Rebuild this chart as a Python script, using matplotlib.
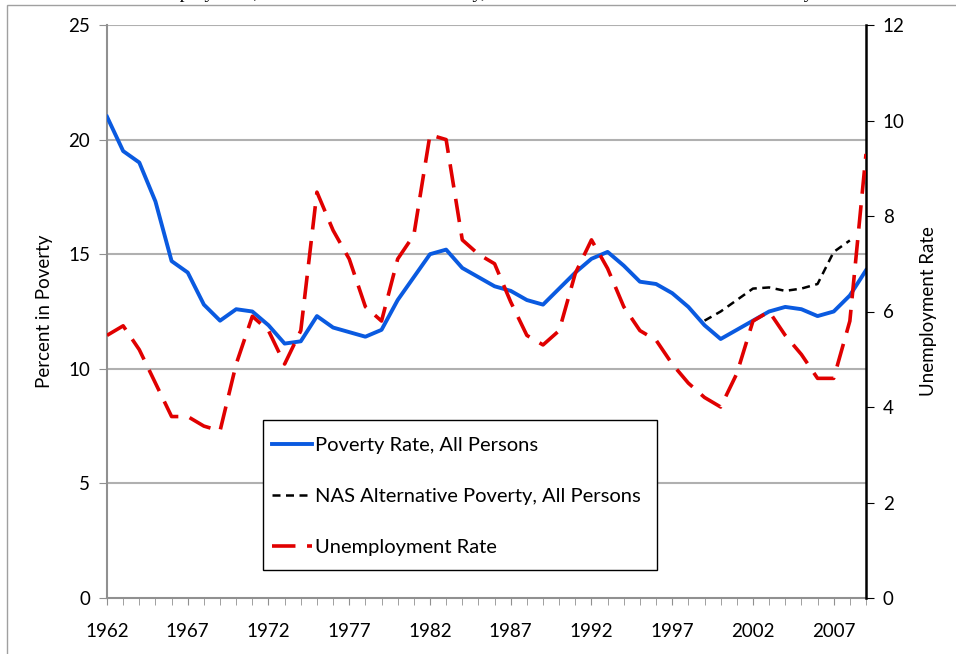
import matplotlib
matplotlib.use("Agg")
import numpy as np
from matplotlib import pyplot as plt
from matplotlib.patches import Rectangle

plt.rcParams["font.family"] = ["Lato", "DejaVu Sans"]

years = list(range(1962, 2010))
poverty = [21.0, 19.5, 19.0, 17.3, 14.7, 14.2, 12.8, 12.1, 12.6, 12.5,
           11.9, 11.1, 11.2, 12.3, 11.8, 11.6, 11.4, 11.7, 13.0, 14.0,
           15.0, 15.2, 14.4, 14.0, 13.6, 13.4, 13.0, 12.8, 13.5, 14.2,
           14.8, 15.1, 14.5, 13.8, 13.7, 13.3, 12.7, 11.9, 11.3, 11.7,
           12.1, 12.5, 12.7, 12.6, 12.3, 12.5, 13.2, 14.3]
unemployment = [5.5, 5.7, 5.2, 4.5, 3.8, 3.8, 3.6, 3.5, 4.9, 5.9,
                5.6, 4.9, 5.6, 8.5, 7.7, 7.1, 6.1, 5.8, 7.1, 7.6,
                9.7, 9.6, 7.5, 7.2, 7.0, 6.2, 5.5, 5.3, 5.6, 6.8,
                7.5, 6.9, 6.1, 5.6, 5.4, 4.9, 4.5, 4.2, 4.0, 4.7,
                5.8, 6.0, 5.5, 5.1, 4.6, 4.6, 5.8, 9.3]
nas_years = list(range(1999, 2009))
nas_poverty = [12.1, 12.5, 13.0, 13.5, 13.55, 13.4, 13.5, 13.7, 15.1, 15.6]

label_years = list(range(1962, 2010, 5))

W, H = 956, 654
L, R, T, B = 107, 866, 25, 598
fig = plt.figure(figsize=(W / 100, H / 100), dpi=100)
ax = fig.add_axes([L / W, 1 - B / H, (R - L) / W, (B - T) / H])
ax2 = ax.twinx()


def to_ax(px, py):
    return (px - L) / (R - L), (B - py) / (B - T)


# chart border and the title, which the reference shows cut off at the top
fig.add_artist(Rectangle((7 / W, -0.1), 1.2, 1.1 - 5 / H, transform=fig.transFigure,
                         fill=False, edgecolor="#a0a0a0", linewidth=1.0))
fig.text(132 / W, 1 + 1.5 / H,
         "Unemployment, Official Measure of Poverty, and NAS Alternative Measure of Poverty",
         family="Liberation Serif", fontsize=14, ha="left", va="baseline")

grid_c = "#b0b0b0"
ax.set_xlim(1962, 2009)
ax.set_ylim(0, 25)
ax.set_yticks([0, 5, 10, 15, 20, 25])
for v in [5, 10, 15, 20, 25]:
    ax.axhline(v, color=grid_c, linewidth=1.5, zorder=0)
ax.set_xticks(label_years)
ax.set_xticks(years, minor=True)
ax.tick_params(axis="x", which="both", direction="out", length=5, color="#909090",
               labelsize=13.5, pad=13)
ax.tick_params(axis="y", direction="out", length=6, color="#909090", labelsize=13.5, pad=6)
for s in ["top", "right"]:
    ax.spines[s].set_visible(False)
ax.spines["left"].set_color("#909090")
ax.spines["bottom"].set_color("#909090")
ax.spines["left"].set_linewidth(1.5)
ax.spines["bottom"].set_linewidth(1.5)
ax.set_ylabel("Percent in Poverty", fontsize=13.5, labelpad=11)

l1, = ax.plot(years, poverty, color="#0a5ae0", linewidth=2.8,
              label="Poverty Rate, All Persons", zorder=3)
l2, = ax.plot(nas_years, nas_poverty, color="black", linewidth=1.8,
              dashes=(3.2, 2.2), label="NAS Alternative Poverty, All Persons", zorder=3)

ax2.set_ylim(0, 12)
ax2.set_yticks(range(0, 13, 2))
ax2.tick_params(axis="y", direction="out", length=6, color="black", labelsize=13.5, pad=6)
for s in ["top", "left", "bottom"]:
    ax2.spines[s].set_visible(False)
ax2.spines["right"].set_linewidth(1.8)
ax2.set_ylabel("Unemployment Rate", fontsize=13.5, labelpad=11)
l3, = ax2.plot(years, unemployment, color="#e00000", linewidth=2.6,
               dashes=(6.5, 3.2), label="Unemployment Rate", zorder=3)

# legend box drawn separately so its padding can match the reference
x0, y0 = to_ax(263, 570)
x1, y1 = to_ax(657, 420)
ax2.add_patch(Rectangle((x0, y0), x1 - x0, y1 - y0, transform=ax2.transAxes,
                        facecolor="white", edgecolor="black", linewidth=1.0, zorder=4))
leg = ax2.legend(handles=[l1, l2, l3], loc="upper left",
                 bbox_to_anchor=to_ax(263, 428),
                 borderaxespad=0, frameon=False, fontsize=14.5,
                 handlelength=2.0, handletextpad=0.15, labelspacing=1.68,
                 borderpad=0.45)
leg.set_zorder(5)

fig.savefig("out.png", dpi=100)
